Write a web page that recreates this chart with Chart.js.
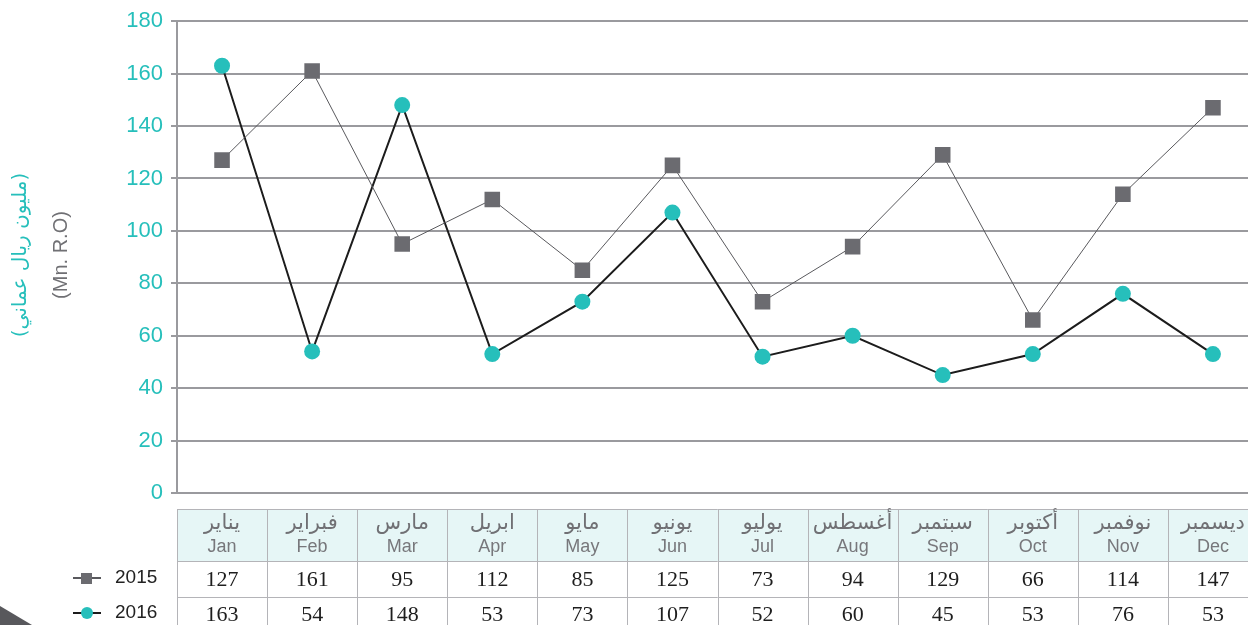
<!DOCTYPE html>
<html>
<head>
<meta charset="utf-8">
<script src="https://cdn.jsdelivr.net/npm/chart.js@4"></script>
<style>
  html, body { margin: 0; padding: 0; background: #fff; overflow: hidden; }
  #wrap { width: 1248px; height: 625px; position: relative; overflow: hidden; }
  #chart { position: absolute; left: 0; top: 0; }
</style>
</head>
<body>
<div id="wrap"><canvas id="chart" width="1258" height="625"></canvas></div>
<script>
const monthsAr = ['يناير', 'فبراير', 'مارس', 'ابريل', 'مايو', 'يونيو', 'يوليو', 'أغسطس', 'سبتمبر', 'أكتوبر', 'نوفمبر', 'ديسمبر'];
const monthsEn = ['Jan', 'Feb', 'Mar', 'Apr', 'May', 'Jun', 'Jul', 'Aug', 'Sep', 'Oct', 'Nov', 'Dec'];
const values2015 = [127, 161, 95, 112, 85, 125, 73, 94, 129, 66, 114, 147];
const values2016 = [163, 54, 148, 53, 73, 107, 52, 60, 45, 53, 76, 53];
const seriesNames = ['2015', '2016'];
const yTitleAr = '(مليون ريال عماني)';
const yTitleEn = '(Mn. R.O)';

const TEAL = '#26bfbb';
const GREY_MARK = '#6b6b70';
const GRID = '#9a9a9e';

// table under the plot, legend on the left, y title
const extrasPlugin = {
    id: 'extras',
    afterDraw(chart) {
        const ctx = chart.ctx;
        const x = chart.scales.x;
        const area = chart.chartArea;
        const colW = x.getPixelForValue(1) - x.getPixelForValue(0);
        const headTop = 509, headBot = 561, row1Bot = 597, row2Bot = 633;

        ctx.save();
        // header background
        ctx.fillStyle = '#e6f6f6';
        ctx.fillRect(area.left, headTop, area.right - area.left, headBot - headTop);

        // grid of the table
        ctx.strokeStyle = '#b4b4b8';
        ctx.lineWidth = 1;
        ctx.beginPath();
        [headTop, headBot, row1Bot].forEach(y => {
            ctx.moveTo(area.left, y + 0.5);
            ctx.lineTo(area.right, y + 0.5);
        });
        for (let i = 0; i <= monthsEn.length; i++) {
            const px = Math.round(x.getPixelForValue(i) - colW / 2) + 0.5;
            ctx.moveTo(px, headTop);
            ctx.lineTo(px, row2Bot);
        }
        ctx.stroke();

        ctx.textAlign = 'center';
        ctx.textBaseline = 'middle';
        monthsEn.forEach((m, i) => {
            const cx = x.getPixelForValue(i);
            ctx.fillStyle = '#707074';
            ctx.font = '21px "DejaVu Sans", sans-serif';
            ctx.fillText(monthsAr[i], cx, headTop + 15);
            ctx.font = '18px "Liberation Sans", sans-serif';
            ctx.fillStyle = '#77777b';
            ctx.fillText(m, cx, headTop + 38);

            ctx.fillStyle = '#1e1e1e';
            ctx.font = '22px "Liberation Serif", serif';
            ctx.fillText(String(values2015[i]), cx, (headBot + row1Bot) / 2 + 1);
            ctx.fillText(String(values2016[i]), cx, (row1Bot + row2Bot) / 2);
        });

        // legend
        const ds = chart.data.datasets;
        [578, 613].forEach((ly, i) => {
            const d = ds[i];
            ctx.strokeStyle = d.borderColor;
            ctx.lineWidth = 2;
            ctx.beginPath();
            ctx.moveTo(73, ly);
            ctx.lineTo(101, ly);
            ctx.stroke();
            ctx.fillStyle = d.pointBackgroundColor;
            if (d.pointStyle === 'rect') {
                ctx.fillRect(81, ly - 5, 11, 11);
            } else {
                ctx.beginPath();
                ctx.arc(87, ly, 6, 0, Math.PI * 2);
                ctx.fill();
            }
            ctx.fillStyle = '#222';
            ctx.font = '19px "Liberation Sans", sans-serif';
            ctx.textAlign = 'left';
            ctx.fillText(seriesNames[i], 115, ly);
        });

        // y axis title (two lines, two colours)
        ctx.translate(0, 255);
        ctx.rotate(-Math.PI / 2);
        ctx.textAlign = 'center';
        ctx.fillStyle = TEAL;
        ctx.font = '20px "DejaVu Sans", sans-serif';
        ctx.fillText(yTitleAr, 0, 21);
        ctx.fillStyle = '#707074';
        ctx.font = '20px "Liberation Sans", sans-serif';
        ctx.fillText(yTitleEn, 0, 61);
        ctx.restore();

        // corner decoration
        ctx.save();
        ctx.fillStyle = '#58585c';
        ctx.beginPath();
        ctx.moveTo(0, 606);
        ctx.lineTo(32, 625);
        ctx.lineTo(0, 625);
        ctx.closePath();
        ctx.fill();
        ctx.restore();
    }
};

new Chart(document.getElementById('chart').getContext('2d'), {
    type: 'line',
    data: {
        labels: monthsEn,
        datasets: [{
            label: seriesNames[0],
            data: values2015,
            borderColor: '#59595d',
            borderWidth: 1,
            pointStyle: 'rect',
            pointRadius: 11,
            pointBackgroundColor: GREY_MARK,
            pointBorderColor: GREY_MARK,
            pointBorderWidth: 0,
            tension: 0,
        }, {
            label: seriesNames[1],
            data: values2016,
            borderColor: '#1c1c1c',
            borderWidth: 2,
            pointStyle: 'circle',
            pointRadius: 8,
            pointBackgroundColor: TEAL,
            pointBorderColor: TEAL,
            pointBorderWidth: 0,
            tension: 0,
        }]
    },
    options: {
        responsive: false,
        animation: false,
        layout: { autoPadding: false, padding: { top: 20, right: 0, bottom: 132, left: 0 } },
        scales: {
            x: {
                display: false,
                offset: true,
            },
            y: {
                min: 0,
                max: 180,
                afterFit: (scale) => { scale.width = 177; },
                ticks: {
                    stepSize: 20,
                    color: TEAL,
                    font: { family: '"Liberation Sans", sans-serif', size: 22 },
                    padding: 8,
                },
                grid: {
                    color: GRID,
                    lineWidth: 2,
                    tickLength: 6,
                },
                border: { color: GRID, width: 2 },
            }
        },
        plugins: {
            legend: { display: false },
            tooltip: { enabled: false },
        }
    },
    plugins: [extrasPlugin]
});
</script>
</body>
</html>
